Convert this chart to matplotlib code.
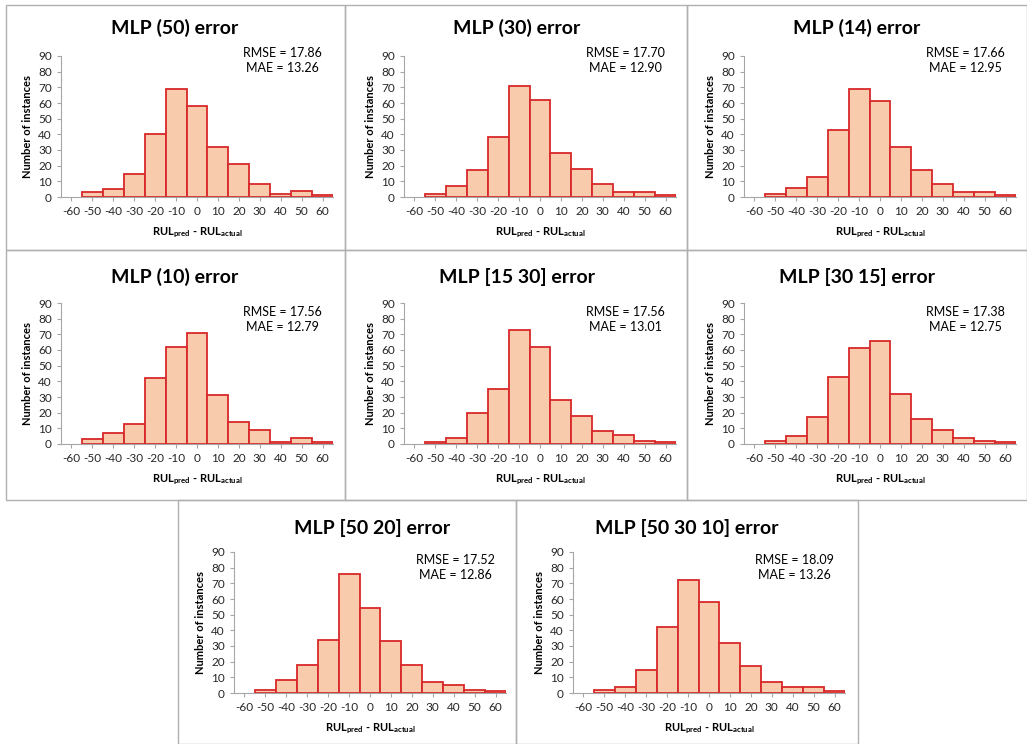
import matplotlib
matplotlib.use('Agg')
import matplotlib.pyplot as plt
from matplotlib.patches import Rectangle

plt.rcParams['font.family'] = ['Lato', 'DejaVu Sans']
plt.rcParams['mathtext.fontset'] = 'custom'
plt.rcParams['mathtext.rm'] = 'Lato'
plt.rcParams['mathtext.bf'] = 'Lato:bold'
plt.rcParams['axes.unicode_minus'] = False

# categorias do histograma (centro de cada classe)
bins = [-60, -50, -40, -30, -20, -10, 0, 10, 20, 30, 40, 50, 60]

titles = ['MLP (50) error', 'MLP (30) error', 'MLP (14) error',
          'MLP (10) error', 'MLP [15 30] error', 'MLP [30 15] error',
          'MLP [50 20] error', 'MLP [50 30 10] error']
rmse = [17.86, 17.70, 17.66, 17.56, 17.56, 17.38, 17.52, 18.09]
mae = [13.26, 12.90, 12.95, 12.79, 13.01, 12.75, 12.86, 13.26]

mlp_50 = [0, 3, 5, 15, 40, 69, 58, 32, 21, 8, 2, 4, 1]
mlp_30 = [0, 2, 7, 17, 38, 71, 62, 28, 18, 8, 3, 3, 1]
mlp_14 = [0, 2, 6, 13, 43, 69, 61, 32, 17, 8, 3, 3, 1]
mlp_10 = [0, 3, 7, 13, 42, 62, 71, 31, 14, 9, 1, 4, 1]
mlp_15_30 = [0, 1, 4, 20, 35, 73, 62, 28, 18, 8, 6, 2, 1]
mlp_30_15 = [0, 2, 5, 17, 43, 61, 66, 32, 16, 9, 4, 2, 1]
mlp_50_20 = [0, 2, 8, 18, 34, 76, 54, 33, 18, 7, 5, 2, 1]
mlp_50_30_10 = [0, 2, 4, 15, 42, 72, 58, 32, 17, 7, 4, 4, 1]
counts = [mlp_50, mlp_30, mlp_14, mlp_10, mlp_15_30, mlp_30_15, mlp_50_20, mlp_50_30_10]

W, H = 1027, 744
fig = plt.figure(figsize=(W / 100, H / 100), dpi=100)
fig.patch.set_facecolor('white')

# layout em pixels
ax_left = [61, 404, 744, 61, 404, 744, 234, 573]
ax_top = [56, 56, 56, 303, 303, 303, 552, 552]
ax_w, ax_h = 272, 141
title_x = [175, 517, 857, 175, 517, 857, 372, 687]
title_y = [28, 28, 28, 277, 277, 277, 528, 528]
stat_y = [53, 53, 53, 312, 312, 312, 560, 560]
boxes = [(6, 5, 339, 245), (345, 5, 342, 245), (687, 5, 340, 245),
         (6, 250, 339, 250), (345, 250, 342, 250), (687, 250, 340, 250),
         (178, 500, 338, 244), (516, 500, 342, 244)]

for (bx, by, bw, bh) in boxes:
    fig.patches.append(Rectangle((bx / W, 1 - (by + bh) / H), bw / W, bh / H,
                                 transform=fig.transFigure, fill=False,
                                 edgecolor='#b0b0b0', linewidth=1.0))

axcol = '#a6a6a6'
for i in range(8):
    ax = fig.add_axes([ax_left[i] / W, 1 - (ax_top[i] + ax_h) / H, ax_w / W, ax_h / H])
    xs = [b for b, c in zip(bins, counts[i]) if c > 0]
    hs = [c for c in counts[i] if c > 0]
    ax.bar(xs, hs, width=10, color='#f8cbad', edgecolor='#d8282a', linewidth=1.3)
    ax.set_xlim(-65, 65)
    ax.set_ylim(0, 90)
    ax.set_xticks(bins)
    ax.set_yticks(range(0, 91, 10))
    ax.tick_params(labelsize=8.5, colors=axcol, labelcolor='#262626', length=3, width=0.8)
    for s in ['top', 'right']:
        ax.spines[s].set_visible(False)
    for s in ['left', 'bottom']:
        ax.spines[s].set_color(axcol)
        ax.spines[s].set_linewidth(0.8)
    ax.set_ylabel('Number of instances', fontsize=8, fontweight='bold', labelpad=4)
    ax.set_xlabel(r'RUL$_\mathbf{pred}$ - RUL$_\mathbf{actual}$', fontsize=8,
                  fontweight='bold', labelpad=6)
    fig.text(title_x[i] / W, 1 - title_y[i] / H, titles[i], fontsize=14,
             fontweight='bold', ha='center', va='center')
    sx = (ax_left[i] + 221) / W
    fig.text(sx, 1 - stat_y[i] / H, 'RMSE = %.2f' % rmse[i], fontsize=9,
             ha='center', va='center')
    fig.text(sx, 1 - (stat_y[i] + 15) / H, 'MAE = %.2f' % mae[i], fontsize=9,
             ha='center', va='center')

fig.savefig('out.png', dpi=100)
